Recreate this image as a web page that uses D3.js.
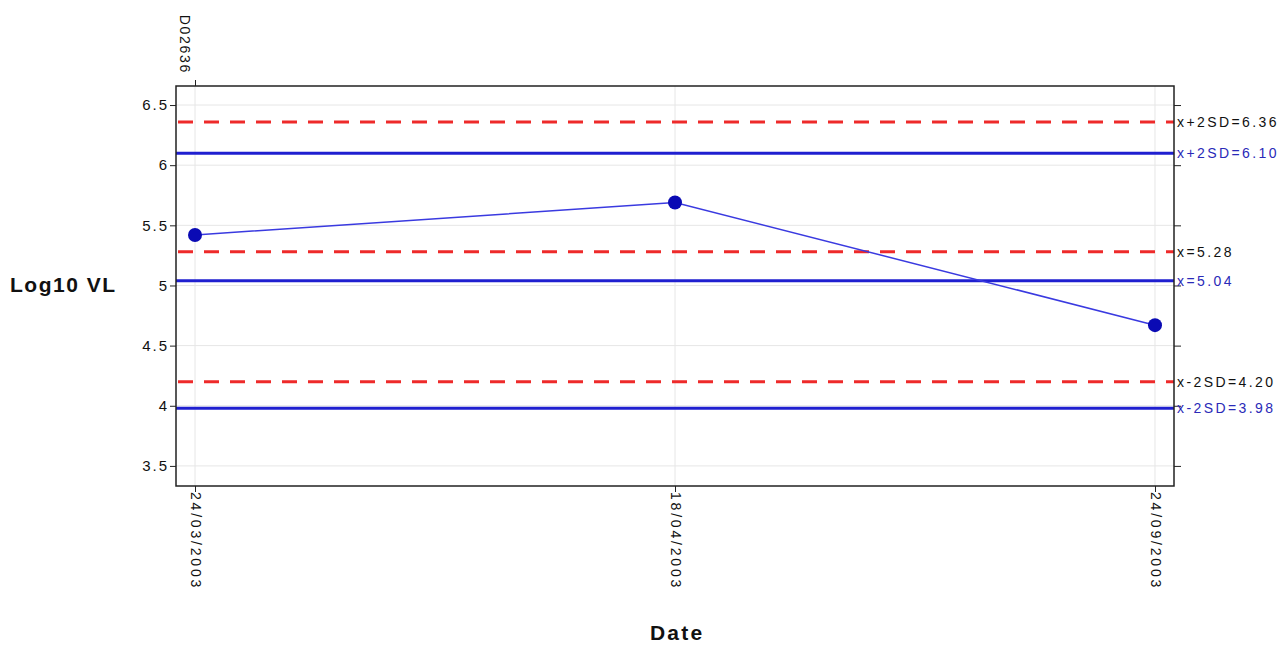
<!DOCTYPE html>
<html><head><meta charset="utf-8">
<script src="https://cdn.jsdelivr.net/npm/d3@7"></script>
<style>body{margin:0;background:#fff;} text{font-family:"Liberation Sans",Arial,sans-serif;}</style>
</head><body>
<svg id="c" width="1287" height="649"></svg>
<script>
const dates = ["24/03/2003", "18/04/2003", "24/09/2003"];
const log10VL = [5.42, 5.69, 4.67];
const yTicks = [3.5, 4, 4.5, 5, 5.5, 6, 6.5];
const topLabel = ["D02636"];
const refRed = [6.36, 5.28, 4.20];
const refRedLabels = ["x+2SD=6.36", "x=5.28", "x-2SD=4.20"];
const refBlue = [6.10, 5.04, 3.98];
const refBlueLabels = ["x+2SD=6.10", "x=5.04", "x-2SD=3.98"];

const svg = d3.select("#c");
const L = 176, R = 1174, T = 86, B = 486;
const x = d3.scalePoint().domain(dates).range([L, R]).padding(0.0396);
const y = d3.scaleLinear().domain([3.333, 6.6583]).range([B, T]);

// grid
svg.append("g").selectAll("line").data(yTicks).join("line")
  .attr("x1", L).attr("x2", R).attr("y1", d => y(d)).attr("y2", d => y(d))
  .attr("stroke", "#e6e6e6").attr("stroke-width", 1);
svg.append("g").selectAll("line").data(dates).join("line")
  .attr("y1", T).attr("y2", B).attr("x1", d => x(d)).attr("x2", d => x(d))
  .attr("stroke", "#e6e6e6").attr("stroke-width", 1);

// reference lines
svg.append("g").selectAll("line").data(refBlue).join("line")
  .attr("x1", L).attr("x2", R).attr("y1", d => y(d)).attr("y2", d => y(d))
  .attr("stroke", "#1f1fd0").attr("stroke-width", 3);
svg.append("g").selectAll("line").data(refRed).join("line")
  .attr("x1", L + 2).attr("x2", R).attr("y1", d => y(d)).attr("y2", d => y(d))
  .attr("stroke", "#ee2a2a").attr("stroke-width", 3).attr("stroke-dasharray", "15,11");

// axes
const tickStyle = g => { g.select(".domain").remove(); g.selectAll("line").attr("stroke", "#222"); g.selectAll("text").attr("fill", "#111").style("font-size", "15px").style("letter-spacing", "2px"); };
svg.append("g").attr("transform", `translate(${L},0)`)
  .call(d3.axisLeft(y).tickValues(yTicks).tickSize(6).tickPadding(1).tickFormat(d3.format("")))
  .call(tickStyle);
svg.append("g").attr("transform", `translate(${R},0)`)
  .call(d3.axisRight(y).tickValues(yTicks).tickSize(7).tickFormat(""))
  .call(tickStyle);
const xb = svg.append("g").attr("transform", `translate(0,${B})`)
  .call(d3.axisBottom(x).tickSize(6).tickPadding(3))
  .call(tickStyle);
xb.selectAll("text").attr("transform", "rotate(90)").attr("text-anchor", "start")
  .attr("x", 6).attr("y", 0).attr("dy", "0.35em").style("font-size", "14px").style("letter-spacing", "2.8px");
const xt = svg.append("g").attr("transform", `translate(0,${T})`)
  .call(d3.axisTop(x).tickValues([dates[0]]).tickSize(6).tickFormat(() => topLabel[0]))
  .call(tickStyle);
xt.selectAll("text").attr("transform", "rotate(90)").attr("text-anchor", "end")
  .attr("x", -12).attr("y", 16).attr("dy", "0").style("font-size", "14px").style("letter-spacing", "1.7px");

// frame
svg.append("rect").attr("x", L).attr("y", T).attr("width", R - L).attr("height", B - T)
  .attr("fill", "none").attr("stroke", "#222").attr("stroke-width", 1.5);

// right labels
svg.append("g").selectAll("text").data(refRed).join("text")
  .attr("x", R + 3).attr("y", d => y(d)).attr("dy", "0.35em")
  .text((d, i) => refRedLabels[i]).attr("fill", "#111").style("font-size", "14px").style("letter-spacing", "2.4px");
svg.append("g").selectAll("text").data(refBlue).join("text")
  .attr("x", R + 3).attr("y", d => y(d)).attr("dy", "0.35em")
  .text((d, i) => refBlueLabels[i]).attr("fill", "#2a2ab8").style("font-size", "14px").style("letter-spacing", "2.4px");

// data
svg.append("path").datum(log10VL)
  .attr("d", d3.line().x((d, i) => x(dates[i])).y(d => y(d)))
  .attr("fill", "none").attr("stroke", "#3a3ae0").attr("stroke-width", 1.5);
svg.append("g").selectAll("circle").data(log10VL).join("circle")
  .attr("cx", (d, i) => x(dates[i])).attr("cy", d => y(d)).attr("r", 7)
  .attr("fill", "#0a0ab4");

// titles
svg.append("text").attr("x", 10).attr("y", 292).attr("text-anchor", "start")
  .style("font-size", "21px").style("font-weight", "bold").style("letter-spacing", "1.5px").attr("fill", "#111").text("Log10 VL");
svg.append("text").attr("x", 650).attr("y", 640).attr("text-anchor", "start")
  .style("font-size", "21px").style("font-weight", "bold").style("letter-spacing", "2.2px").attr("fill", "#111").text("Date");
</script>
</body></html>
